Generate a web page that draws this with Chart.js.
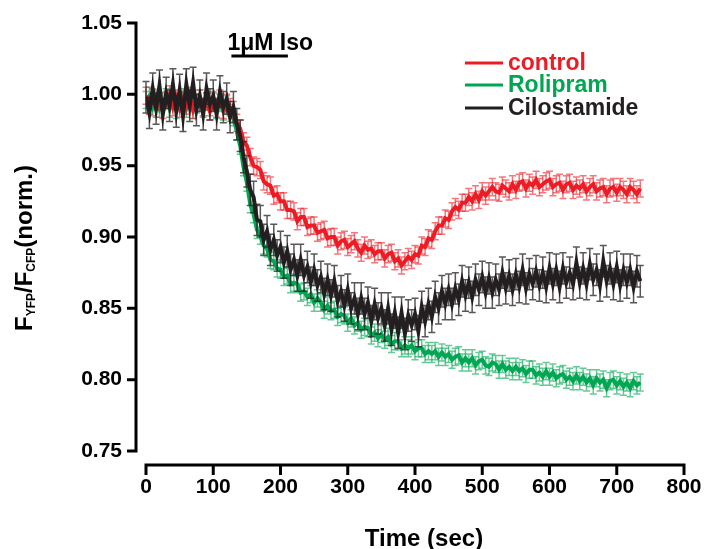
<!DOCTYPE html>
<html>
<head>
<meta charset="utf-8">
<script src="https://cdn.jsdelivr.net/npm/chart.js@4.4.1/dist/chart.umd.min.js"></script>
<style>
  html, body { margin: 0; padding: 0; background: #fff; }
  canvas { display: block; }
</style>
</head>
<body>
<canvas id="fret-chart" width="707" height="549"></canvas>
<script>
// samples every 5 s, from 0 to 735 s
const sampleInterval = 5;

// normalised FYFP/FCFP, one value per sample
const controlRatio = [
  0.999, 0.992, 0.998, 0.990, 0.995, 0.989, 0.996, 1.000, 0.991, 0.997,
  0.990, 0.996, 0.992, 0.999, 0.989, 0.994, 0.997, 0.991, 0.995, 0.988,
  0.995, 0.990, 0.997, 0.989, 0.994, 0.991, 0.989, 0.980, 0.976, 0.967,
  0.964, 0.956, 0.950, 0.949, 0.947, 0.939, 0.937, 0.936, 0.929, 0.930,
  0.925, 0.925, 0.919, 0.919, 0.918, 0.911, 0.914, 0.914, 0.907, 0.908,
  0.908, 0.903, 0.904, 0.905, 0.899, 0.900, 0.900, 0.894, 0.897, 0.898,
  0.893, 0.895, 0.897, 0.892, 0.889, 0.894, 0.891, 0.892, 0.888, 0.890,
  0.890, 0.885, 0.888, 0.889, 0.883, 0.885, 0.880, 0.883, 0.886, 0.884,
  0.888, 0.887, 0.894, 0.893, 0.899, 0.898, 0.904, 0.908, 0.908, 0.913,
  0.912, 0.918, 0.921, 0.919, 0.924, 0.924, 0.928, 0.925, 0.930, 0.926,
  0.932, 0.929, 0.932, 0.935, 0.932, 0.931, 0.936, 0.934, 0.932, 0.937,
  0.933, 0.938, 0.939, 0.934, 0.938, 0.936, 0.940, 0.935, 0.937, 0.939,
  0.940, 0.935, 0.937, 0.938, 0.933, 0.937, 0.938, 0.933, 0.936, 0.934,
  0.937, 0.932, 0.935, 0.937, 0.932, 0.934, 0.935, 0.930, 0.934, 0.935,
  0.931, 0.935, 0.933, 0.930, 0.935, 0.933, 0.930, 0.934
];
const rolipramRatio = [
  0.996, 0.999, 0.991, 0.997, 0.990, 0.995, 0.998, 0.990, 0.996, 0.989,
  0.995, 0.998, 0.990, 0.996, 0.989, 0.993, 0.997, 0.990, 0.995, 0.991,
  0.996, 0.989, 0.994, 0.988, 0.993, 0.987, 0.984, 0.974, 0.964, 0.949,
  0.938, 0.923, 0.916, 0.905, 0.901, 0.894, 0.892, 0.884, 0.883, 0.878,
  0.877, 0.872, 0.873, 0.867, 0.868, 0.867, 0.861, 0.862, 0.858, 0.860,
  0.854, 0.857, 0.854, 0.849, 0.852, 0.848, 0.849, 0.844, 0.846, 0.845,
  0.840, 0.843, 0.838, 0.840, 0.835, 0.837, 0.836, 0.831, 0.833, 0.829,
  0.832, 0.828, 0.830, 0.825, 0.827, 0.827, 0.822, 0.824, 0.822, 0.824,
  0.820, 0.822, 0.822, 0.818, 0.820, 0.818, 0.820, 0.816, 0.819, 0.816,
  0.818, 0.814, 0.816, 0.817, 0.812, 0.815, 0.812, 0.815, 0.810, 0.813,
  0.814, 0.810, 0.809, 0.812, 0.811, 0.807, 0.811, 0.807, 0.809, 0.806,
  0.809, 0.806, 0.808, 0.804, 0.807, 0.807, 0.803, 0.805, 0.802, 0.806,
  0.802, 0.805, 0.801, 0.803, 0.804, 0.800, 0.802, 0.799, 0.803, 0.799,
  0.802, 0.798, 0.801, 0.796, 0.801, 0.798, 0.800, 0.794, 0.799, 0.800,
  0.796, 0.799, 0.795, 0.798, 0.794, 0.799, 0.796, 0.798
];
const cilostamideRatio = [
  0.998, 0.987, 1.004, 0.990, 1.006, 0.986, 1.001, 0.992, 1.007, 0.988,
  1.003, 0.985, 1.007, 0.992, 1.008, 0.989, 0.999, 0.986, 1.004, 0.993,
  0.999, 0.986, 1.002, 0.991, 0.997, 0.984, 0.991, 0.979, 0.971, 0.956,
  0.946, 0.933, 0.928, 0.912, 0.911, 0.898, 0.904, 0.891, 0.898, 0.887,
  0.893, 0.882, 0.890, 0.877, 0.884, 0.873, 0.884, 0.873, 0.879, 0.868,
  0.877, 0.866, 0.872, 0.860, 0.870, 0.859, 0.869, 0.855, 0.862, 0.852,
  0.863, 0.850, 0.857, 0.846, 0.857, 0.846, 0.854, 0.841, 0.853, 0.843,
  0.850, 0.838, 0.850, 0.835, 0.847, 0.833, 0.847, 0.832, 0.845, 0.838,
  0.846, 0.834, 0.851, 0.841, 0.853, 0.844, 0.858, 0.850, 0.862, 0.853,
  0.863, 0.853, 0.864, 0.856, 0.869, 0.859, 0.868, 0.858, 0.870, 0.863,
  0.872, 0.861, 0.871, 0.861, 0.870, 0.863, 0.875, 0.864, 0.873, 0.863,
  0.874, 0.865, 0.877, 0.864, 0.874, 0.867, 0.876, 0.866, 0.875, 0.865,
  0.878, 0.867, 0.877, 0.865, 0.878, 0.868, 0.875, 0.867, 0.882, 0.868,
  0.878, 0.867, 0.881, 0.870, 0.877, 0.866, 0.883, 0.869, 0.878, 0.867,
  0.879, 0.866, 0.877, 0.868, 0.877, 0.865, 0.876, 0.869
];

// SEM of each trace (error bar half height)
const controlSem = 0.006;
const rolipramSem = 0.006;
const cilostamideSem = 0.011;

// isoproterenol application, seconds
const isoStart = 127;
const isoEnd = 211;

const xTicks = [0, 100, 200, 300, 400, 500, 600, 700, 800];
const yTicks = [0.75, 0.80, 0.85, 0.90, 0.95, 1.00, 1.05];

const RED = '#ed1c24';
const GREEN = '#00a651';
const BLACK = '#231f20';
const FONT = '"Liberation Sans", Arial, sans-serif';

function toPoints(values) {
    return values.map((v, i) => ({ x: i * sampleInterval, y: v }));
}

// error bars, drawn under each line
const errorBars = {
    id: 'errorBars',
    beforeDatasetDraw(chart, args) {
        const ds = chart.data.datasets[args.index];
        const yScale = chart.scales.y;
        const ctx = chart.ctx;
        ctx.save();
        ctx.strokeStyle = ds.errorColor;
        ctx.lineWidth = 1.5;
        args.meta.data.forEach((pt, i) => {
            const v = ds.data[i].y;
            const top = yScale.getPixelForValue(v + ds.sem);
            const bot = yScale.getPixelForValue(v - ds.sem);
            ctx.beginPath();
            ctx.moveTo(pt.x, top);
            ctx.lineTo(pt.x, bot);
            ctx.moveTo(pt.x - 3.5, top);
            ctx.lineTo(pt.x + 3.5, top);
            ctx.moveTo(pt.x - 3.5, bot);
            ctx.lineTo(pt.x + 3.5, bot);
            ctx.stroke();
        });
        ctx.restore();
    }
};

// detached axes, titles, legend and the Iso bar
const decorations = {
    id: 'decorations',
    afterDraw(chart) {
        const ctx = chart.ctx;
        const xs = chart.scales.x;
        const ys = chart.scales.y;
        ctx.save();
        ctx.strokeStyle = '#000';
        ctx.lineWidth = 3;
        ctx.lineCap = 'butt';

        // y axis
        const axisX = 136;
        ctx.beginPath();
        ctx.moveTo(axisX, ys.getPixelForValue(1.05) - 1.5);
        ctx.lineTo(axisX, ys.getPixelForValue(0.75) + 1.5);
        yTicks.forEach(v => {
            const py = ys.getPixelForValue(v);
            ctx.moveTo(axisX - 9, py);
            ctx.lineTo(axisX, py);
        });
        ctx.stroke();

        // x axis
        const axisY = 465;
        ctx.beginPath();
        ctx.moveTo(xs.getPixelForValue(0) - 1.5, axisY);
        ctx.lineTo(xs.getPixelForValue(800) + 1.5, axisY);
        xTicks.forEach(v => {
            const px = xs.getPixelForValue(v);
            ctx.moveTo(px, axisY);
            ctx.lineTo(px, axisY + 10);
        });
        ctx.stroke();

        // Iso bar
        const isoY = 56;
        ctx.beginPath();
        ctx.moveTo(xs.getPixelForValue(isoStart), isoY);
        ctx.lineTo(xs.getPixelForValue(isoEnd), isoY);
        ctx.stroke();
        ctx.fillStyle = '#000';
        ctx.font = 'bold 23px ' + FONT;
        ctx.textAlign = 'left';
        ctx.textBaseline = 'alphabetic';
        ctx.fillText('1μM Iso', xs.getPixelForValue(isoStart) - 4, 50);

        // x title
        ctx.font = 'bold 24px ' + FONT;
        ctx.textAlign = 'center';
        ctx.fillText('Time (sec)', 424, 546);

        // y title with subscripts
        ctx.save();
        ctx.translate(32, 248);
        ctx.rotate(-Math.PI / 2);
        const parts = [
            ['F', false], ['YFP', true], ['/F', false], ['CFP', true], ['(norm.)', false]
        ];
        const big = 'bold 24px ' + FONT;
        const small = 'bold 12px ' + FONT;
        let total = 0;
        parts.forEach(([t, sub]) => {
            ctx.font = sub ? small : big;
            total += ctx.measureText(t).width;
        });
        let cx = -total / 2;
        ctx.textAlign = 'left';
        parts.forEach(([t, sub]) => {
            ctx.font = sub ? small : big;
            ctx.fillText(t, cx, sub ? 3 : 0);
            cx += ctx.measureText(t).width;
        });
        ctx.restore();

        // legend
        const legend = [
            ['control', RED, 63],
            ['Rolipram', GREEN, 85],
            ['Cilostamide', BLACK, 108]
        ];
        ctx.font = 'bold 23px ' + FONT;
        ctx.textAlign = 'left';
        ctx.textBaseline = 'middle';
        legend.forEach(([label, color, ly]) => {
            ctx.strokeStyle = color;
            ctx.beginPath();
            ctx.moveTo(465, ly);
            ctx.lineTo(503, ly);
            ctx.stroke();
            ctx.fillStyle = color;
            ctx.fillText(label, 508, ly + 1);
        });
        ctx.restore();
    }
};

new Chart(document.getElementById('fret-chart'), {
    type: 'line',
    data: {
        datasets: [
            {
                label: 'Cilostamide',
                data: toPoints(cilostamideRatio),
                borderColor: BLACK,
                errorColor: 'rgba(35, 31, 32, 0.75)',
                sem: cilostamideSem,
                borderWidth: 4,
                pointRadius: 0
            },
            {
                label: 'control',
                data: toPoints(controlRatio),
                borderColor: RED,
                errorColor: 'rgba(237, 28, 36, 0.6)',
                sem: controlSem,
                borderWidth: 4,
                pointRadius: 0
            },
            {
                label: 'Rolipram',
                data: toPoints(rolipramRatio),
                borderColor: GREEN,
                errorColor: 'rgba(0, 166, 81, 0.6)',
                sem: rolipramSem,
                borderWidth: 4,
                pointRadius: 0
            }
        ]
    },
    options: {
        responsive: false,
        animation: false,
        devicePixelRatio: 1,
        layout: { padding: { left: 0, right: 23, top: 23, bottom: 0 } },
        plugins: {
            legend: { display: false },
            tooltip: { enabled: false }
        },
        scales: {
            x: {
                type: 'linear',
                min: 0,
                max: 800,
                afterFit: s => {
                    s.height = 98;
                    s.paddingLeft = 0;
                    s.paddingRight = 0;
                },
                grid: { display: false, drawTicks: false },
                border: { display: false },
                ticks: {
                    stepSize: 100,
                    padding: 24,
                    maxRotation: 0,
                    color: '#000',
                    font: { family: FONT, size: 21, weight: 'bold' }
                }
            },
            y: {
                min: 0.75,
                max: 1.05,
                afterFit: s => {
                    s.width = 146;
                    s.paddingTop = 0;
                    s.paddingBottom = 0;
                },
                grid: { display: false, drawTicks: false },
                border: { display: false },
                ticks: {
                    stepSize: 0.05,
                    padding: 24,
                    color: '#000',
                    font: { family: FONT, size: 21, weight: 'bold' },
                    callback: v => v.toFixed(2)
                }
            }
        }
    },
    plugins: [errorBars, decorations]
});
</script>
</body>
</html>
